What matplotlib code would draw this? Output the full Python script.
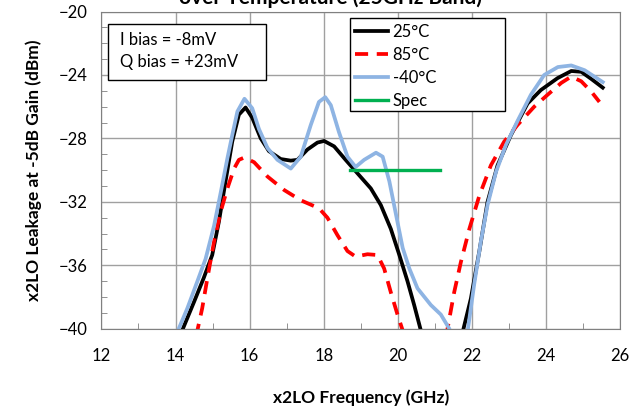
import matplotlib
matplotlib.use("Agg")
import matplotlib.pyplot as plt
from matplotlib.patches import Rectangle
from matplotlib.ticker import MultipleLocator

plt.rcParams['font.family'] = ['Lato', 'DejaVu Sans']

# 25C (black), two branches either side of the dip below -40
f25_a = [14.1, 14.18, 14.5, 14.76, 14.99, 15.17, 15.35, 15.53, 15.71, 15.89, 16.07, 16.3, 16.52,
         16.84, 17.11, 17.29, 17.56, 17.83, 18.01, 18.28, 18.59, 18.91, 19.27, 19.54, 19.81,
         20.04, 20.26, 20.44, 20.62, 20.66]
v25_a = [-40.6, -40.1, -38.3, -36.8, -35.35, -33.25, -30.7, -28.2, -26.5, -26.05, -26.7, -28.0, -28.8,
         -29.3, -29.4, -29.35, -28.7, -28.26, -28.16, -28.5, -29.35, -30.2, -31.15, -32.2, -33.7,
         -35.35, -37.0, -38.5, -40.1, -40.5]
f25_b = [21.72, 21.75, 21.97, 22.2, 22.42, 22.69, 23.05, 23.5, 23.86, 24.31, 24.68, 24.95, 25.22, 25.53]
v25_b = [-40.5, -40.2, -38.1, -35.1, -32.0, -29.7, -27.8, -25.8, -24.95, -24.2, -23.75, -23.8, -24.25, -24.8]

# 85C (red dashed)
f85_a = [14.56, 14.59, 14.72, 14.86, 15.04, 15.22, 15.4, 15.58, 15.71, 15.86, 16.12, 16.48, 16.93,
         17.38, 17.87, 18.1, 18.37, 18.64, 18.86, 19.18, 19.45, 19.63, 19.81, 19.99, 20.13, 20.16]
v85_a = [-40.5, -40.1, -38.7, -36.8, -34.5, -32.6, -31.15, -29.9, -29.35, -29.2, -29.5, -30.4, -31.25,
         -31.9, -32.4, -33.0, -34.1, -35.1, -35.45, -35.3, -35.35, -36.2, -37.7, -39.1, -40.1, -40.5]
f85_b = [21.32, 21.34, 21.52, 21.7, 21.93, 22.2, 22.51, 22.87, 23.23, 23.68, 24.04, 24.41, 24.68,
         24.95, 25.22, 25.44]
v85_b = [-40.5, -40.0, -37.7, -35.8, -33.7, -31.6, -29.7, -28.2, -27.15, -26.0, -25.25, -24.5, -24.1,
         -24.4, -25.05, -25.7]

# -40C (light blue)
fm40_a = [14.0, 14.05, 14.32, 14.59, 14.81, 15.04, 15.22, 15.4, 15.53, 15.67, 15.86, 16.07, 16.25,
          16.48, 16.75, 17.11, 17.38, 17.65, 17.87, 18.04, 18.19, 18.41, 18.64, 18.86, 19.09,
          19.41, 19.59, 19.77, 19.95, 20.13, 20.31, 20.53, 20.89, 21.16, 21.39, 21.45]
vm40_a = [-40.5, -40.2, -38.7, -37.0, -35.6, -33.5, -31.4, -29.25, -27.8, -26.3, -25.5, -26.1, -27.4,
          -28.6, -29.35, -29.9, -29.15, -27.15, -25.7, -25.4, -25.9, -27.6, -29.15, -29.8, -29.35,
          -28.9, -29.15, -30.7, -32.8, -34.9, -36.2, -37.45, -38.5, -39.1, -40.0, -40.5]
fm40_b = [21.84, 21.88, 22.06, 22.24, 22.42, 22.65, 22.92, 23.23, 23.59, 23.95, 24.32, 24.68, 25.04, 25.53]
vm40_b = [-40.5, -40.2, -37.2, -34.5, -32.2, -30.1, -28.4, -26.9, -25.25, -24.0, -23.5, -23.4, -23.7, -24.45]

spec_f = [18.7, 21.15]
spec_v = [-30.0, -30.0]

fig = plt.figure(figsize=(6.42, 4.11), dpi=100)
ax = fig.add_axes([0.158, 0.2, 0.808, 0.772])

ax.plot(f25_a, v25_a, color='black', lw=2.7, label='25°C', solid_joinstyle='round')
ax.plot(f25_b, v25_b, color='black', lw=2.7, solid_joinstyle='round')
ax.plot(f85_a, v85_a, color='#ff0000', lw=2.7, dashes=(3.5, 2.3), label='85°C')
ax.plot(f85_b, v85_b, color='#ff0000', lw=2.7, dashes=(3.5, 2.3))
ax.plot(fm40_a, vm40_a, color='#8eb4e3', lw=2.7, label='-40°C', solid_joinstyle='round')
ax.plot(fm40_b, vm40_b, color='#8eb4e3', lw=2.7, solid_joinstyle='round')
ax.plot(spec_f, spec_v, color='#00b050', lw=2.4, label='Spec')

ax.set_xlim(12, 26)
ax.set_ylim(-40, -20)
ax.xaxis.set_major_locator(MultipleLocator(2))
ax.xaxis.set_minor_locator(MultipleLocator(1))
ax.yaxis.set_major_locator(MultipleLocator(4))
ax.yaxis.set_minor_locator(MultipleLocator(1))
ax.grid(True, which='major', color='#a0a0a0', lw=1)
ax.set_axisbelow(True)
ax.tick_params(which='both', direction='in', colors='#808080', labelcolor='black', labelsize=12)
ax.tick_params(axis='x', which='major', length=0, pad=14)
ax.tick_params(axis='y', which='major', length=0, pad=10)
ax.tick_params(which='minor', length=4)
for s in ax.spines.values():
    s.set_color('#808080')

ax.set_xlabel('x2LO Frequency (GHz)', fontsize=12.5, fontweight='bold', labelpad=18)
ax.set_ylabel('x2LO Leakage at -5dB Gain (dBm)', fontsize=12.5, fontweight='bold', labelpad=12)

# title sits partly above the top edge, as in the reference
fig.text(0.515, 1.005, 'over Temperature (25GHz Band)', ha='center', va='center',
         fontsize=15, fontweight='bold')

# bias note box
ax.add_patch(Rectangle((0.0135, 0.785), 0.303, 0.177, transform=ax.transAxes,
                       fc='white', ec='black', lw=1, zorder=4))
ax.text(0.036, 0.875, 'I bias = -8mV\nQ bias = +23mV', transform=ax.transAxes,
        ha='left', va='center', fontsize=12, linespacing=1.45, zorder=5)

# legend with a wide frame like the reference
ax.add_patch(Rectangle((0.48, 0.685), 0.298, 0.293, transform=ax.transAxes,
                       fc='white', ec='black', lw=1, zorder=4))
leg = ax.legend(loc='upper left', bbox_to_anchor=(0.489, 0.96), fontsize=12, frameon=False,
                handlelength=2.0, handletextpad=0.25, labelspacing=0.42, borderpad=0,
                borderaxespad=0)
leg.set_zorder(5)

fig.savefig('out.png', dpi=100)
